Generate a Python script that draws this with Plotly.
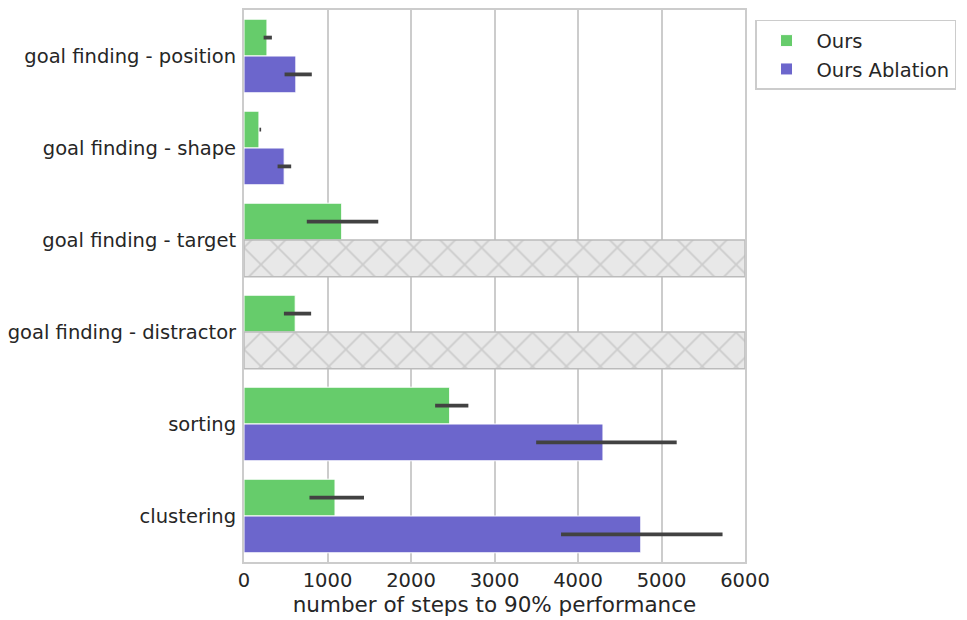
"""Pasos hasta el 90% de rendimiento: Ours vs Ours Ablation."""

import plotly.graph_objects as go

# datos
tareas = [
    'goal finding - position',
    'goal finding - shape',
    'goal finding - target',
    'goal finding - distractor',
    'sorting',
    'clustering',
]
ours_media = [275, 179, 1170, 613, 2463, 1090]
ours_bajo = [235, 185, 752, 478, 2289, 784]
ours_alto = [334, 205, 1608, 804, 2687, 1437]

abl_media = [621, 481, None, None, 4299, 4752]
abl_bajo = [486, 402, None, None, 3499, 3797]
abl_alto = [812, 565, None, None, 5182, 5731]

# tareas donde la ablacion nunca llega al 90%
sin_resultado = ['goal finding - target', 'goal finding - distractor']

x_max = 6000
x_ticks = [0, 1000, 2000, 3000, 4000, 5000, 6000]

VERDE = '#66cc6b'
MORADO = '#6c66cc'
TEXTO = '#262626'
GRIS = '#cccccc'


def _err(media, bajo, alto):
    mas = [None if m is None else a - m for m, a in zip(media, alto)]
    menos = [None if m is None else m - b for m, b in zip(media, bajo)]
    return dict(type='data', symmetric=False, array=mas, arrayminus=menos,
                color='#424242', thickness=3.8, width=0)


fig = go.Figure()

fig.add_trace(go.Bar(
    y=tareas, x=ours_media, orientation='h', name='Ours',
    offsetgroup='a', marker=dict(color=VERDE, line=dict(color='white', width=1)),
    error_x=_err(ours_media, ours_bajo, ours_alto),
))
fig.add_trace(go.Bar(
    y=tareas, x=abl_media, orientation='h', name='Ours Ablation',
    offsetgroup='b', marker=dict(color=MORADO, line=dict(color='white', width=1)),
    error_x=_err(abl_media, abl_bajo, abl_alto),
))
fig.add_trace(go.Bar(
    y=sin_resultado, x=[x_max] * len(sin_resultado), orientation='h',
    offsetgroup='b', showlegend=False, hoverinfo='skip',
    marker=dict(
        color='#e8e8e8',
        line=dict(color='#bbbbbb', width=1.5),
        pattern=dict(shape='x', fgcolor='#b0b0b0', bgcolor='#e8e8e8',
                     size=24, solidity=0.14),
    ),
))

# la pagina tiene 8 px de margen en el body, se descuenta aqui
fig.update_layout(
    width=959,
    height=612,
    margin=dict(l=234, r=222, t=0, b=58),
    barmode='group',
    bargap=0.2,
    bargroupgap=0.0,
    plot_bgcolor='white',
    paper_bgcolor='white',
    font=dict(family='DejaVu Sans', size=19.5, color=TEXTO),
    legend=dict(
        x=1.02, y=0.982, xanchor='left', yanchor='top',
        bordercolor=GRIS, borderwidth=1.5, font=dict(size=19.5),
        itemwidth=50, tracegroupgap=0,
    ),
    xaxis=dict(
        range=[0, x_max],
        tickvals=x_ticks,
        title=dict(text='number of steps to 90% performance',
                   font=dict(size=21.5), standoff=2),
        showgrid=True, gridcolor=GRIS, gridwidth=2,
        showline=True, linecolor=GRIS, linewidth=2, mirror=True,
        zeroline=False, ticks='', ticklabelstandoff=0,
    ),
    yaxis=dict(
        categoryorder='array', categoryarray=tareas, autorange='reversed',
        showgrid=False,
        showline=True, linecolor=GRIS, linewidth=2, mirror=True,
        ticks='', ticklabelstandoff=2,
    ),
)

fig.write_html('out.html')
